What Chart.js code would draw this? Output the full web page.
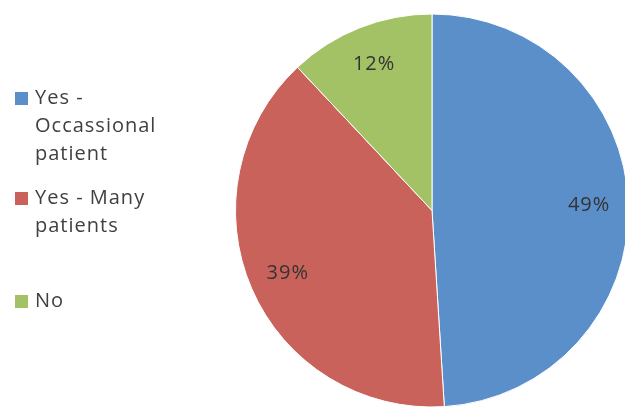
<!DOCTYPE html>
<html>
<head>
<meta charset="utf-8">
<script src="https://cdn.jsdelivr.net/npm/chart.js@4"></script>
<style>
  html, body { margin: 0; padding: 0; background: #fff; overflow: hidden; width: 625px; height: 408px; }
</style>
</head>
<body>
<canvas id="pieChart" width="640" height="408"></canvas>
<script>
const answers = ['Yes - Occassional patient', 'Yes - Many patients', 'No'];
const shares = [49, 39, 12];
const sliceColors = ['#5B8FCA', '#C9625A', '#A3C265'];

// percentage text inside each slice
const pctLabels = {
  id: 'pctLabels',
  afterDatasetsDraw(chart) {
    const ctx = chart.ctx;
    const meta = chart.getDatasetMeta(0);
    const values = chart.data.datasets[0].data;
    ctx.save();
    ctx.font = '20px "Open Sans"';
    ctx.letterSpacing = '1px';
    ctx.fillStyle = '#333';
    ctx.textAlign = 'center';
    ctx.textBaseline = 'middle';
    meta.data.forEach((arc, i) => {
      const p = arc.getProps(['x', 'y', 'startAngle', 'endAngle', 'outerRadius'], true);
      const mid = (p.startAngle + p.endAngle) / 2;
      const d = p.outerRadius * 0.8;
      ctx.fillText(values[i] + '%', p.x + Math.cos(mid) * d, p.y + Math.sin(mid) * d);
    });
    ctx.restore();
  }
};

// excel style legend on the left, labels wrapped over several lines
const sideLegend = {
  id: 'sideLegend',
  afterDraw(chart) {
    const ctx = chart.ctx;
    const rowTops = [98, 198, 301];
    const lineH = 28;
    const maxW = 140;
    ctx.save();
    ctx.font = '20px "Open Sans"';
    ctx.letterSpacing = '1px';
    ctx.textAlign = 'left';
    ctx.textBaseline = 'middle';
    chart.data.labels.forEach((label, i) => {
      const words = label.split(' ');
      const lines = [];
      let cur = '';
      words.forEach(w => {
        const test = cur ? cur + ' ' + w : w;
        if (cur && ctx.measureText(test).width > maxW) {
          lines.push(cur);
          cur = w;
        } else {
          cur = test;
        }
      });
      lines.push(cur);
      const y0 = rowTops[i];
      ctx.fillStyle = chart.data.datasets[0].backgroundColor[i];
      ctx.fillRect(15, y0 - 6, 13, 13);
      ctx.fillStyle = '#404040';
      lines.forEach((ln, k) => ctx.fillText(ln, 35, y0 + k * lineH));
    });
    ctx.restore();
  }
};

new Chart(document.getElementById('pieChart'), {
  type: 'pie',
  data: {
    labels: answers,
    datasets: [{
      data: shares,
      backgroundColor: sliceColors,
      borderColor: '#fff',
      borderWidth: 1
    }]
  },
  options: {
    responsive: false,
    animation: false,
    layout: {
      padding: { left: 235, right: 11, top: 13, bottom: 0 }
    },
    plugins: {
      legend: { display: false },
      tooltip: { enabled: false }
    }
  },
  plugins: [pctLabels, sideLegend]
});
</script>
</body>
</html>
